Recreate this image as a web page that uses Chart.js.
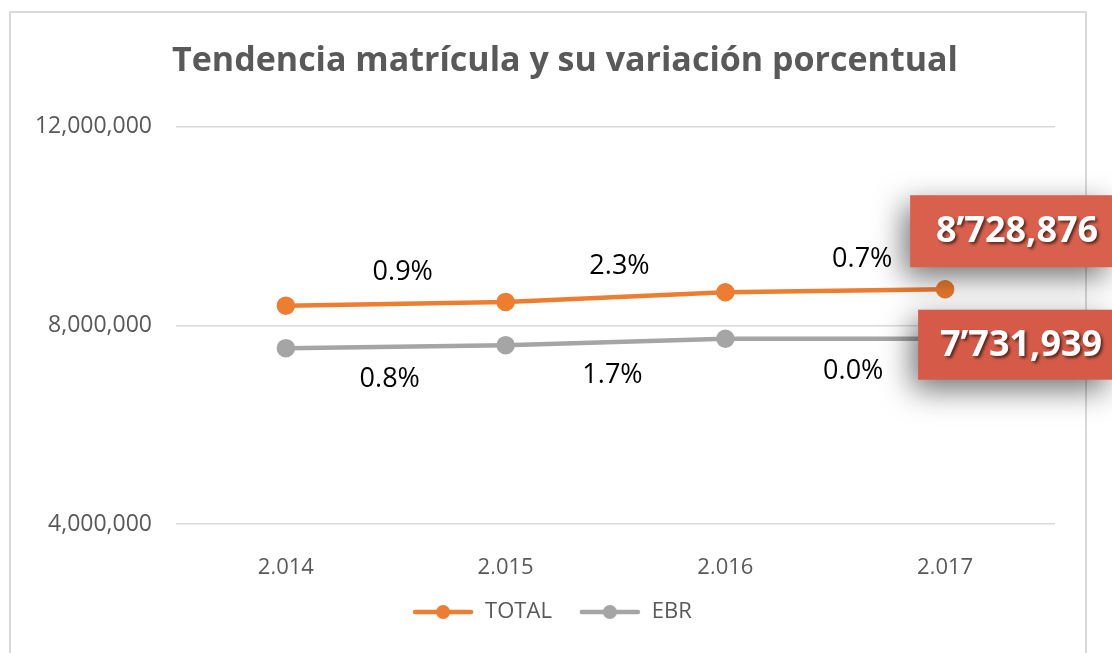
<!DOCTYPE html>
<html>
<head>
<meta charset="utf-8">
<script src="https://cdn.jsdelivr.net/npm/chart.js@4/dist/chart.umd.min.js"></script>
<style>
  html, body { margin: 0; padding: 0; background: #fff; }
  #wrap { width: 1112px; height: 653px; position: relative; }
</style>
</head>
<body>
<div id="wrap"><canvas id="matChart"></canvas></div>
<script>
// data
const years = ['2,014', '2,015', '2,016', '2,017'];
const totalValues = [8398000, 8473000, 8668000, 8728876];
const ebrValues = [7542000, 7602000, 7731000, 7731939];
const totalVar = ['0.9%', '2.3%', '0.7%'];
const ebrVar = ['0.8%', '1.7%', '0.0%'];
const yTicks = [4000000, 8000000, 12000000];

const FONT = "'Open Sans', 'Noto Sans', sans-serif";

// legend marker: short line with a dot in the middle
function legendMarker(color) {
    const c = document.createElement('canvas');
    c.width = 62; c.height = 16;
    const g = c.getContext('2d');
    g.strokeStyle = color;
    g.lineWidth = 4.5;
    g.lineCap = 'round';
    g.beginPath(); g.moveTo(3, 8); g.lineTo(59, 8); g.stroke();
    g.fillStyle = color;
    g.beginPath(); g.arc(31, 8, 7, 0, Math.PI * 2); g.fill();
    return c;
}

// 8728876 -> 8’728,876
function fmtMillions(v) {
    const m = Math.floor(v / 1000000);
    const rest = String(v % 1000000).padStart(6, '0');
    return m + '\u2019' + rest.slice(0, 3) + ',' + rest.slice(3);
}

// frame round the chart
const framePlugin = {
    id: 'frame',
    beforeDraw(chart) {
        const ctx = chart.ctx;
        ctx.save();
        ctx.strokeStyle = '#d9d9d9';
        ctx.lineWidth = 2;
        ctx.strokeRect(10, 12, 1076, 660);
        ctx.restore();
    }
};

// shift title/legend so they sit where the original has them
const nudgePlugin = {
    id: 'nudge',
    afterLayout(chart) {
        if (chart.titleBlock) { chart.titleBlock.left += 33; chart.titleBlock.right += 33; }
        if (chart.legend) { chart.legend.left += 20; chart.legend.right += 20; }
    }
};

// percent labels between points + value callouts at the end
const labelPlugin = {
    id: 'varLabels',
    afterDatasetsDraw(chart) {
        const ctx = chart.ctx;
        const xs = chart.scales.x, ys = chart.scales.y;
        ctx.save();
        ctx.font = '27px ' + FONT;
        ctx.fillStyle = '#000';
        ctx.textAlign = 'center';
        ctx.textBaseline = 'middle';
        const nudgeT = [7, 4, 27];
        const nudgeE = [-6, -3, 18];
        for (let i = 1; i < years.length; i++) {
            const xm = (xs.getPixelForValue(i - 1) + xs.getPixelForValue(i)) / 2;
            const yt = (ys.getPixelForValue(totalValues[i - 1]) + ys.getPixelForValue(totalValues[i])) / 2;
            const ye = (ys.getPixelForValue(ebrValues[i - 1]) + ys.getPixelForValue(ebrValues[i])) / 2;
            ctx.fillText(totalVar[i - 1], xm + nudgeT[i - 1], yt - 31);
            ctx.fillText(ebrVar[i - 1], xm + nudgeE[i - 1], ye + 33);
        }
        ctx.restore();

        // callout boxes for the last year
        const last = years.length - 1;
        const xl = xs.getPixelForValue(last);
        const boxes = [
            { v: totalValues[last], left: xl - 35, cy: ys.getPixelForValue(totalValues[last]) - 58, h: 72, fill: '#d9604c' },
            { v: ebrValues[last], left: xl - 27, cy: ys.getPixelForValue(ebrValues[last]) + 6, h: 70, fill: '#d55a47' }
        ];
        boxes.forEach((b) => {
            const top = b.cy - b.h / 2;
            const w = chart.width - b.left;
            ctx.save();
            ctx.shadowColor = 'rgba(0,0,0,0.55)';
            ctx.shadowBlur = 30;
            ctx.shadowOffsetX = -6;
            ctx.shadowOffsetY = 10;
            ctx.fillStyle = b.fill;
            ctx.fillRect(b.left, top, w, b.h);
            ctx.restore();

            ctx.save();
            ctx.font = 'bold 36px ' + FONT;
            ctx.fillStyle = '#fff';
            ctx.textAlign = 'center';
            ctx.textBaseline = 'middle';
            ctx.shadowColor = 'rgba(0,0,0,0.6)';
            ctx.shadowBlur = 3;
            ctx.shadowOffsetX = 2;
            ctx.shadowOffsetY = 2;
            ctx.fillText(fmtMillions(b.v), b.left + w / 2 + 6, b.cy + 1);
            ctx.restore();
        });
    }
};

const ctx = document.getElementById('matChart').getContext('2d');
new Chart(ctx, {
    type: 'line',
    data: {
        labels: years,
        datasets: [{
            label: 'TOTAL',
            data: totalValues,
            borderColor: '#ed7d31',
            backgroundColor: '#ed7d31',
            borderWidth: 4.5,
            pointRadius: 7,
            pointHoverRadius: 7,
            pointStyle: 'circle',
            tension: 0
        }, {
            label: 'EBR',
            data: ebrValues,
            borderColor: '#a5a5a5',
            backgroundColor: '#a5a5a5',
            borderWidth: 4.5,
            pointRadius: 7,
            pointHoverRadius: 7,
            pointStyle: 'circle',
            tension: 0
        }]
    },
    options: {
        responsive: true,
        maintainAspectRatio: false,
        animation: false,
        layout: { padding: { left: 9, right: 57, top: 11, bottom: 20 } },
        plugins: {
            title: {
                display: true,
                text: 'Tendencia matrícula y su variación porcentual',
                color: '#595959',
                font: { family: FONT, size: 34, weight: 'bold' },
                padding: { top: 30, bottom: 45 }
            },
            legend: {
                position: 'bottom',
                labels: {
                    usePointStyle: true,
                    pointStyleWidth: 62,
                    padding: 27,
                    color: '#595959',
                    font: { family: FONT, size: 22 },
                    generateLabels(chart) {
                        return chart.data.datasets.map((ds, i) => ({
                            text: ds.label,
                            fillStyle: ds.borderColor,
                            strokeStyle: ds.borderColor,
                            fontColor: '#595959',
                            pointStyle: legendMarker(ds.borderColor),
                            lineWidth: 0,
                            datasetIndex: i
                        }));
                    }
                }
            },
            tooltip: { enabled: false }
        },
        scales: {
            x: {
                offset: true,
                grid: { display: false, offset: true },
                border: { display: false },
                afterFit: (scale) => { scale.height = 50; },
                ticks: { color: '#595959', padding: 23, font: { family: FONT, size: 22 } }
            },
            y: {
                min: yTicks[0],
                max: yTicks[yTicks.length - 1],
                afterFit: (scale) => { scale.width = 167; },
                afterBuildTicks: (scale) => { scale.ticks = yTicks.map(v => ({ value: v })); },
                border: { display: false },
                grid: { color: '#d9d9d9', lineWidth: 1.5, drawTicks: false },
                ticks: {
                    color: '#595959',
                    padding: 24,
                    font: { family: FONT, size: 23 },
                    callback: value => value.toLocaleString('en-US')
                }
            }
        }
    },
    plugins: [framePlugin, nudgePlugin, labelPlugin]
});
</script>
</body>
</html>
